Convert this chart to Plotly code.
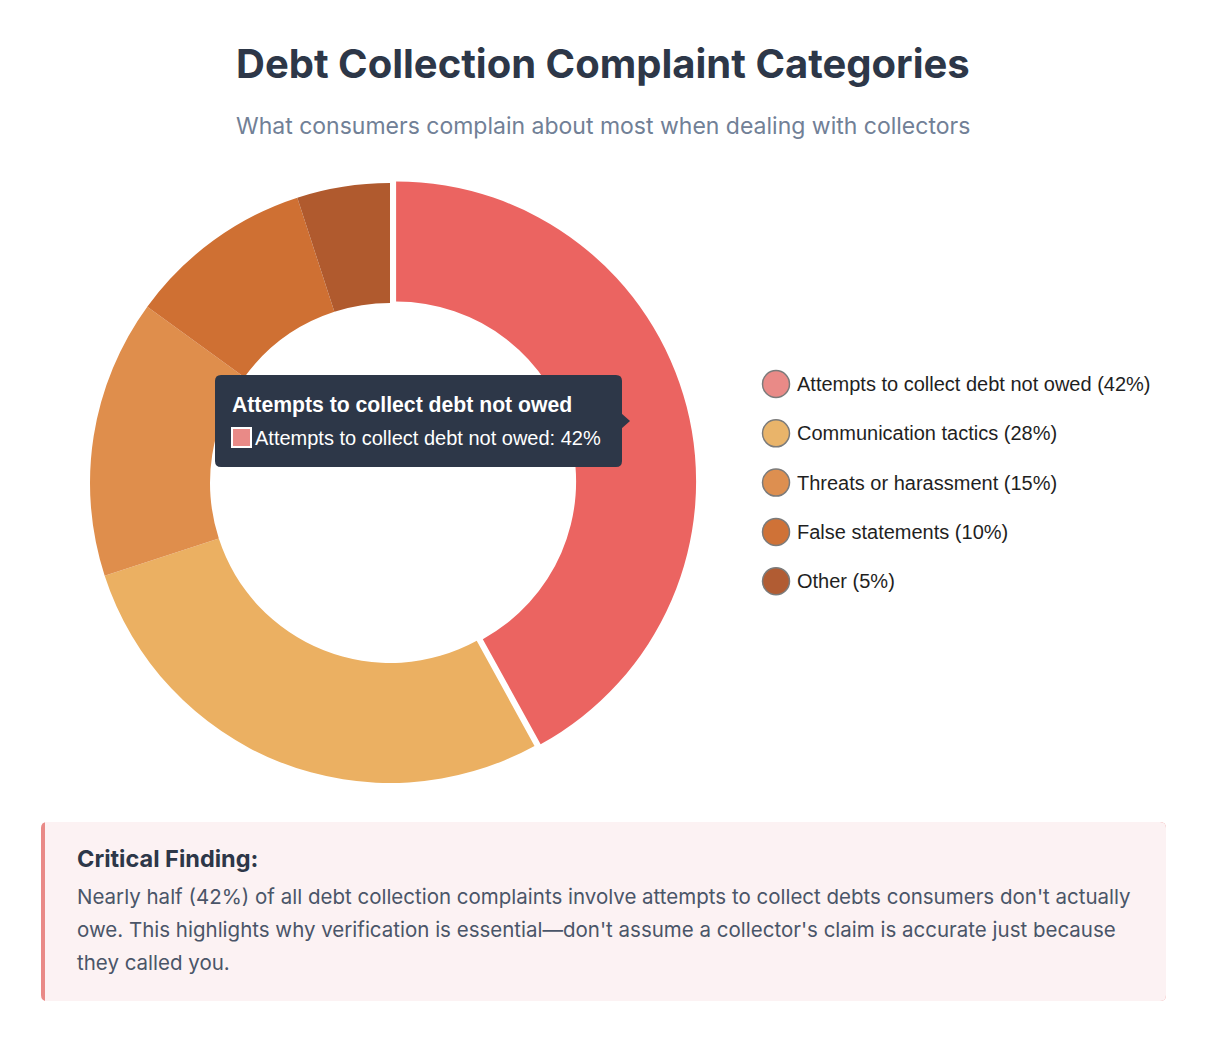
import plotly.graph_objects as go

W, H = 1212, 1040

# ---- data ----
categories = ["Attempts to collect debt not owed", "Communication tactics",
              "Threats or harassment", "False statements", "Other"]
values = [42, 28, 15, 10, 5]
slice_colors = ["#EB6461", "#EBB062", "#DF8E4C", "#CF7033", "#B05A2E"]
legend_colors = ["#E98A87", "#E9B46A", "#DD8F50", "#CF7237", "#B15C33"]
hovered = 0

title = "Debt Collection Complaint Categories"
subtitle = "What consumers complain about most when dealing with collectors"
finding_title = "Critical Finding:"
finding_lines = [
    "Nearly half (42%) of all debt collection complaints involve attempts to collect debts consumers don't actually",
    "owe. This highlights why verification is essential\u2014don't assume a collector's claim is accurate just because",
    "they called you.",
]

FONT = "Inter, Roboto, sans-serif"
CJS_FONT = "Liberation Sans, Arial, Helvetica, sans-serif"


def px(x):
    return x / W


def py(y):
    return 1 - y / H


def rrect(x0, y0, x1, y1, r, left=True, right=True):
    rl = r if left else 0
    rr = r if right else 0
    p = f"M {px(x0 + rl)} {py(y0)} L {px(x1 - rr)} {py(y0)} "
    p += f"Q {px(x1)} {py(y0)} {px(x1)} {py(y0 + rr)} " if rr else ""
    p += f"L {px(x1)} {py(y1 - rr)} "
    p += f"Q {px(x1)} {py(y1)} {px(x1 - rr)} {py(y1)} " if rr else ""
    p += f"L {px(x0 + rl)} {py(y1)} "
    p += f"Q {px(x0)} {py(y1)} {px(x0)} {py(y1 - rl)} " if rl else ""
    p += f"L {px(x0)} {py(y0 + rl)} "
    p += f"Q {px(x0)} {py(y0)} {px(x0 + rl)} {py(y0)} " if rl else ""
    return p + "Z"


fig = go.Figure()

# donut
pull_amt = 0.021
cx, cy, R = 390, 483, 300
half = R * (1 + pull_amt)
fig.add_trace(go.Pie(
    labels=categories, values=values, sort=False, direction="clockwise",
    rotation=0, hole=0.6,
    pull=[pull_amt if i == hovered else 0 for i in range(len(values))],
    marker=dict(colors=slice_colors, line=dict(color="white", width=0)),
    textinfo="none", hoverinfo="none", showlegend=False,
    domain=dict(x=[px(cx - half), px(cx + half)], y=[py(cy + half), py(cy - half)]),
))

# custom legend (circle markers)
leg_x, leg_y0, leg_dy = 776, 384, 49.3
leg_y = [leg_y0 + i * leg_dy for i in range(len(categories))]
fig.add_trace(go.Scatter(
    x=[leg_x] * len(categories), y=leg_y, mode="markers",
    marker=dict(size=27, color=legend_colors, line=dict(color="#7b7b7b", width=1.5)),
    hoverinfo="skip", showlegend=False, xaxis="x", yaxis="y",
))

fig.update_layout(
    width=W, height=H, margin=dict(l=0, r=0, t=0, b=0),
    paper_bgcolor="white", plot_bgcolor="rgba(0,0,0,0)",
    xaxis=dict(range=[0, W], visible=False, domain=[0, 1], fixedrange=True),
    yaxis=dict(range=[H, 0], visible=False, domain=[0, 1], fixedrange=True),
    showlegend=False,
)

shapes = []
# tooltip
shapes.append(dict(type="path", xref="paper", yref="paper",
                   path=rrect(215, 375, 622, 467, 6), fillcolor="#2D3748", line=dict(width=0)))
shapes.append(dict(type="path", xref="paper", yref="paper",
                   path=f"M {px(621)} {py(413)} L {px(630)} {py(421)} L {px(621)} {py(429)} Z",
                   fillcolor="#2D3748", line=dict(width=0)))
shapes.append(dict(type="rect", xref="paper", yref="paper",
                   x0=px(232), x1=px(251), y0=py(447), y1=py(428),
                   fillcolor=legend_colors[hovered], line=dict(color="white", width=2)))
# finding box
shapes.append(dict(type="path", xref="paper", yref="paper",
                   path=rrect(41, 822, 1166, 1001, 6), fillcolor="#E98A87", line=dict(width=0)))
shapes.append(dict(type="path", xref="paper", yref="paper",
                   path=rrect(45, 822, 1166, 1001, 6, left=False), fillcolor="#FCF2F3", line=dict(width=0)))

ann = []
ann.append(dict(text=f"<b>{title}</b>", x=px(603), y=py(63), xref="paper", yref="paper",
                showarrow=False, xanchor="center", yanchor="middle",
                font=dict(family=FONT, size=40, color="#2D3748")))
ann.append(dict(text=subtitle, x=px(603), y=py(126), xref="paper", yref="paper",
                showarrow=False, xanchor="center", yanchor="middle",
                font=dict(family=FONT, size=23, color="#718096")))
# tooltip text
ann.append(dict(text=f"<b>{categories[hovered]}</b>", x=px(230), y=py(405), xref="paper", yref="paper",
                showarrow=False, xanchor="left", yanchor="middle",
                font=dict(family=CJS_FONT, size=21.2, color="white")))
ann.append(dict(text=f"{categories[hovered]}: {values[hovered]}%", x=px(253), y=py(438),
                xref="paper", yref="paper", showarrow=False, xanchor="left", yanchor="middle",
                font=dict(family=CJS_FONT, size=20, color="white")))
# legend labels
for i, (c, v) in enumerate(zip(categories, values)):
    ann.append(dict(text=f"{c} ({v}%)", x=px(795), y=py(leg_y[i]), xref="paper", yref="paper",
                    showarrow=False, xanchor="left", yanchor="middle",
                    font=dict(family=CJS_FONT, size=20, color="#1F1F1F")))
# finding text
ann.append(dict(text=f"<b>{finding_title}</b>", x=px(75), y=py(858), xref="paper", yref="paper",
                showarrow=False, xanchor="left", yanchor="middle",
                font=dict(family=FONT, size=23.5, color="#2D3748")))
for i, line in enumerate(finding_lines):
    ann.append(dict(text=line, x=px(75), y=py(896 + i * 33), xref="paper", yref="paper",
                    showarrow=False, xanchor="left", yanchor="middle",
                    font=dict(family=FONT, size=20.5, color="#4A5568")))

fig.update_layout(shapes=shapes, annotations=ann)
fig.write_html("out.html", config=dict(displayModeBar=False))
